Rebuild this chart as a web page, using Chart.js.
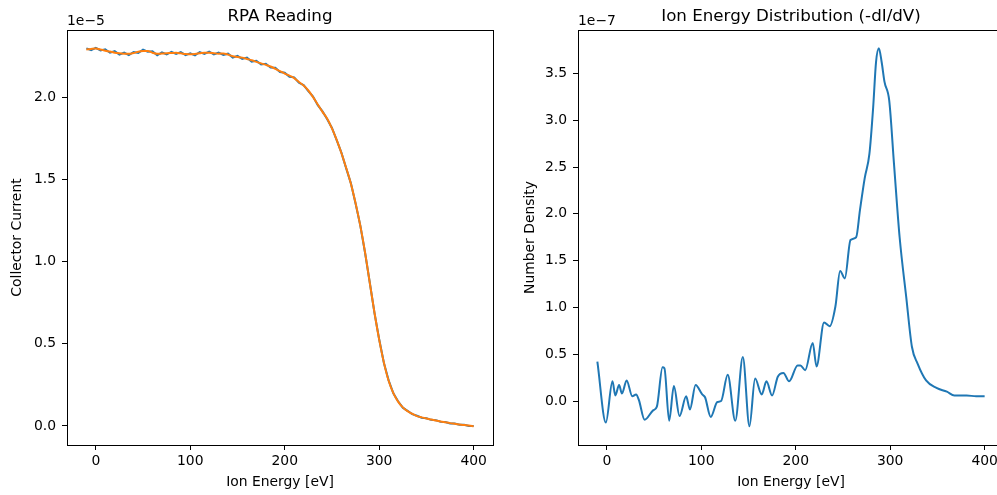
<!DOCTYPE html>
<html>
<head>
<meta charset="utf-8">
<title>RPA Reading</title>
<script src="https://cdn.jsdelivr.net/npm/chart.js@4.4.1/dist/chart.umd.min.js"></script>
<style>
  html, body { margin: 0; padding: 0; background: #fff; overflow: hidden; }
  #wrap { position: relative; width: 997px; height: 495px; overflow: hidden; }
  #rpa { position: absolute; left: 0; top: 0; }
  #ied { position: absolute; left: 497px; top: 0; }
</style>
</head>
<body>
<div id="wrap">
  <canvas id="rpa" width="497" height="495"></canvas>
  <canvas id="ied" width="520" height="495"></canvas>
</div>
<script>
// Retarding voltage sweep, eV
const sweepEnergy = [
  -10, -5, 0, 5, 10, 15, 20, 25, 30, 35, 40, 45, 50, 55, 60, 65, 70, 75, 80, 85,
  90, 95, 100, 105, 110, 115, 120, 125, 130, 135, 140, 145, 150, 155, 160, 165, 170, 175, 180, 185,
  190, 195, 200, 205, 210, 215, 220, 225, 230, 235, 240, 245, 250, 255, 260, 265, 270, 275, 280, 285,
  290, 295, 300, 305, 310, 315, 320, 325, 330, 335, 340, 345, 350, 355, 360, 365, 370, 375, 380, 385,
  390, 395, 400
];

// Collector current in units of 1e-5 A (raw reading)
const currentRaw = [
  2.296, 2.286, 2.300, 2.284, 2.291, 2.270, 2.279, 2.258, 2.271, 2.255, 2.274, 2.268, 2.288, 2.276, 2.279, 2.254, 2.272, 2.259, 2.275, 2.262,
  2.274, 2.255, 2.266, 2.254, 2.274, 2.263, 2.277, 2.260, 2.271, 2.257, 2.264, 2.240, 2.251, 2.232, 2.240, 2.216, 2.221, 2.198, 2.203, 2.180,
  2.178, 2.152, 2.148, 2.124, 2.120, 2.087, 2.073, 2.036, 2.003, 1.951, 1.913, 1.865, 1.812, 1.738, 1.662, 1.568, 1.477, 1.353, 1.220, 1.055,
  0.874, 0.688, 0.527, 0.383, 0.277, 0.198, 0.150, 0.111, 0.092, 0.072, 0.062, 0.050, 0.047, 0.037, 0.035, 0.025, 0.024, 0.015, 0.015, 0.007,
  0.007, 0.000, -0.001
];

// Collector current in units of 1e-5 A (smoothed)
const currentSmooth = [
  2.290, 2.293, 2.295, 2.290, 2.282, 2.277, 2.270, 2.266, 2.264, 2.263, 2.268, 2.276, 2.280, 2.281, 2.270, 2.263, 2.265, 2.267, 2.268, 2.269,
  2.266, 2.262, 2.260, 2.262, 2.266, 2.270, 2.270, 2.267, 2.264, 2.265, 2.258, 2.248, 2.244, 2.240, 2.232, 2.224, 2.214, 2.205, 2.196, 2.186,
  2.172, 2.158, 2.143, 2.130, 2.115, 2.092, 2.070, 2.040, 2.000, 1.955, 1.910, 1.868, 1.810, 1.740, 1.660, 1.570, 1.475, 1.355, 1.218, 1.057,
  0.872, 0.690, 0.525, 0.385, 0.275, 0.200, 0.148, 0.113, 0.090, 0.074, 0.060, 0.052, 0.045, 0.039, 0.033, 0.027, 0.022, 0.017, 0.013, 0.009,
  0.005, 0.002, -0.002
];

// Ion energy distribution (-dI/dV), density in units of 1e-7
const iedEnergy = [
  -10, -1, 6, 9, 13, 16, 21, 27, 31, 34, 40, 49, 53, 59, 61, 66, 71, 77, 84, 88,
  94, 101, 104, 110, 117, 121, 128, 136, 144, 151, 157, 164, 169, 175, 181, 187, 193, 202, 205, 210,
  218, 222, 230, 236, 242, 247, 252, 258, 264, 268, 273, 278, 282, 285, 288, 291, 294, 299, 304, 310,
  317, 323, 329, 338, 349, 360, 368, 381, 391, 400
];
const iedDensity = [
  0.42, -0.23, 0.21, 0.06, 0.17, 0.08, 0.22, 0.05, 0.07, 0.01, -0.20, -0.10, -0.06, 0.36, 0.35, -0.21, 0.16, -0.16, 0.05, -0.09,
  0.17, 0.07, 0.04, -0.17, -0.01, 0.00, 0.28, -0.21, 0.47, -0.27, 0.24, 0.07, 0.21, 0.06, 0.26, 0.30, 0.21, 0.38, 0.38, 0.33,
  0.62, 0.37, 0.84, 0.80, 1.01, 1.39, 1.31, 1.72, 1.75, 2.04, 2.38, 2.64, 3.14, 3.62, 3.77, 3.62, 3.41, 3.21, 2.54, 1.75,
  1.11, 0.58, 0.40, 0.22, 0.14, 0.10, 0.06, 0.06, 0.05, 0.05
];

const energyTicks = [0, 100, 200, 300, 400];
const currentTicks = [0, 0.5, 1.0, 1.5, 2.0];
const densityTicks = [0, 0.5, 1.0, 1.5, 2.0, 2.5, 3.0, 3.5];

const FONT = "'DejaVu Sans', sans-serif";
const BLUE = '#1f77b4';
const ORANGE = '#ff7f0e';

function toPoints(xs, ys) {
  return xs.map((x, i) => ({ x: x, y: ys[i] }));
}

function lineSet(label, xs, ys, color, order, smooth) {
  const ds = {
    label: label,
    data: toPoints(xs, ys),
    borderColor: color,
    backgroundColor: color,
    borderWidth: 2,
    pointRadius: 0,
    tension: 0,
    order: order
  };
  if (smooth) ds.cubicInterpolationMode = 'monotone';
  return ds;
}

function xAxis() {
  return {
    type: 'linear',
    min: -30.5,
    max: 420.5,
    afterBuildTicks: s => { s.ticks = energyTicks.map(v => ({ value: v })); },
    afterFit: s => { s.height = 50; },
    grid: { drawOnChartArea: false, tickLength: 5, tickColor: '#000', tickWidth: 1 },
    border: { color: '#000', width: 1 },
    ticks: { color: '#000', font: { family: FONT, size: 13.9 }, padding: 3, maxRotation: 0, callback: v => String(v) },
    title: { display: true, text: 'Ion Energy [eV]', color: '#000', font: { family: FONT, size: 13.9 }, padding: { top: 0, bottom: 4.7 } }
  };
}

function yAxis(min, max, ticks, width, title, titlePad) {
  return {
    type: 'linear',
    min: min,
    max: max,
    afterBuildTicks: s => { s.ticks = ticks.map(v => ({ value: v })); },
    afterFit: s => { s.width = width; },
    grid: { drawOnChartArea: false, tickLength: 5, tickColor: '#000', tickWidth: 1 },
    border: { color: '#000', width: 1 },
    ticks: { color: '#000', font: { family: FONT, size: 13.9 }, padding: 6, callback: v => v.toFixed(1) },
    title: { display: true, text: title, color: '#000', font: { family: FONT, size: 13.9 }, padding: { top: titlePad, bottom: 0 } }
  };
}

// axes frame, title and the matplotlib-style offset text
const decorate = {
  id: 'decorate',
  afterDraw(chart, args, opts) {
    const { ctx, chartArea: a } = chart;
    ctx.save();
    ctx.strokeStyle = '#000';
    ctx.lineWidth = 1;
    ctx.strokeRect(Math.round(a.left) + 0.5, Math.round(a.top) + 0.5,
      Math.round(a.right - a.left), Math.round(a.bottom - a.top));
    ctx.fillStyle = '#000';
    ctx.font = '16.7px ' + FONT;
    ctx.textAlign = 'center';
    ctx.textBaseline = 'alphabetic';
    ctx.fillText(opts.title, (a.left + a.right) / 2, a.top - 9);
    ctx.font = '13.9px ' + FONT;
    ctx.textAlign = 'left';
    ctx.fillText(opts.offset, a.left, a.top - 5);
    ctx.restore();
  }
};

function baseOptions(padRight) {
  return {
    responsive: false,
    animation: false,
    layout: { padding: { top: 30, right: padRight, bottom: 0, left: 0 } },
    plugins: { legend: { display: false }, tooltip: { enabled: false } }
  };
}

const rpaOptions = baseOptions(4);
rpaOptions.scales = {
  x: xAxis(),
  y: yAxis(-0.116, 2.408, currentTicks, 67, 'Collector Current', 9)
};
rpaOptions.plugins.decorate = { title: 'RPA Reading', offset: '1e\u22125' };

new Chart(document.getElementById('rpa'), {
  type: 'line',
  data: {
    datasets: [
      lineSet('Raw', sweepEnergy, currentRaw, BLUE, 1, false),
      lineSet('Smoothed', sweepEnergy, currentSmooth, ORANGE, 0, true)
    ]
  },
  options: rpaOptions,
  plugins: [decorate]
});

const iedOptions = baseOptions(13);
iedOptions.scales = {
  x: xAxis(),
  y: yAxis(-0.47, 3.965, densityTicks, 81, 'Number Density', 24.7)
};
iedOptions.plugins.decorate = { title: 'Ion Energy Distribution (-dI/dV)', offset: '1e\u22127' };

new Chart(document.getElementById('ied'), {
  type: 'line',
  data: {
    datasets: [lineSet('IED', iedEnergy, iedDensity, BLUE, 0, true)]
  },
  options: iedOptions,
  plugins: [decorate]
});
</script>
</body>
</html>
